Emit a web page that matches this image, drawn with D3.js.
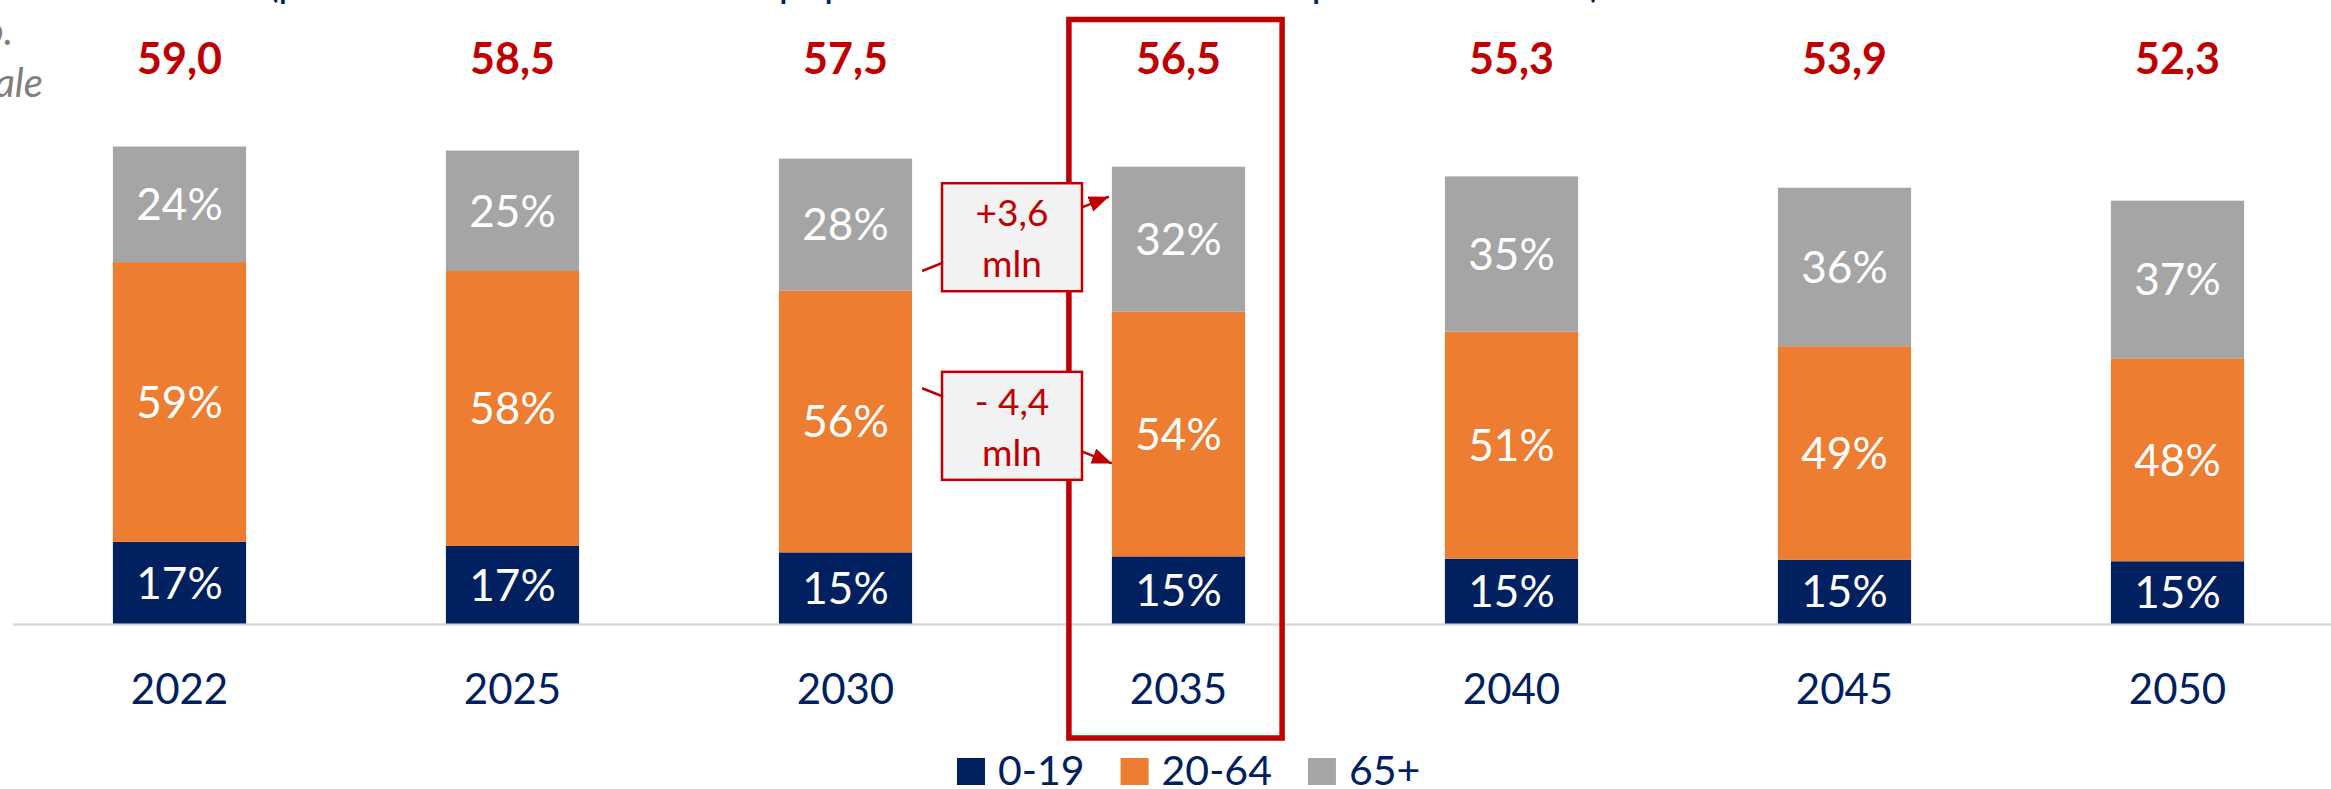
<!DOCTYPE html>
<html>
<head>
<meta charset="utf-8">
<script src="https://cdn.jsdelivr.net/npm/d3@7"></script>
<style>
  body { margin: 0; background: #fff; }
  svg { display: block; font-family: Lato, 'Open Sans', sans-serif; }
</style>
</head>
<body>
<div id="chart"></div>
<script>
//Data (millions of residents by age group)
const years = ['2022', '2025', '2030', '2035', '2040', '2045', '2050'];
const totals = [59.0, 58.5, 57.5, 56.5, 55.3, 53.9, 52.3];
const age0_19 = [10.1, 9.6, 8.8, 8.3, 8.0, 7.9, 7.7];
const age20_64 = [34.6, 34.0, 32.4, 30.3, 28.1, 26.4, 25.1];
const age65 = [14.3, 14.9, 16.3, 17.9, 19.2, 19.6, 19.5];
const pct0_19 = ['17%', '17%', '15%', '15%', '15%', '15%', '15%'];
const pct20_64 = ['59%', '58%', '56%', '54%', '51%', '49%', '48%'];
const pct65 = ['24%', '25%', '28%', '32%', '35%', '36%', '37%'];
const groups = ['0-19', '20-64', '65+'];
const deltas = ['+3,6', '- 4,4'];

const colors = {'0-19': '#002060', '20-64': '#ed7d31', '65+': '#a5a5a5'};
const red = '#c00000';
const navy = '#002060';

const width = 2331, height = 789;

let table = years.map(function(y, i) {
    return {year: y, '0-19': age0_19[i], '20-64': age20_64[i], '65+': age65[i]};
});
let labels = {'0-19': pct0_19, '20-64': pct20_64, '65+': pct65};

let svg = d3.select('#chart').append('svg')
    .attr('width', width)
    .attr('height', height);

//Scales
let xScale = d3.scaleBand()
    .domain(years)
    .range([13, 2344])
    .paddingInner(0.6)
    .paddingOuter(0.3);

let yScale = d3.scaleLinear()
    .domain([0, 59])
    .range([623.5, 146.5]);

let bw = xScale.bandwidth();
let comma = d3.formatLocale({decimal: ',', thousands: '.', grouping: [3], currency: ['', '€']}).format('.1f');

//cut-off title and subtitle fragments
svg.append('text')
    .attr('x', 268).attr('y', -3)
    .attr('font-size', 40).attr('fill', navy)
    .text('(previsioni Istat al 2050 della popolazione residente in Italia per classe di età)');

svg.append('text')
    .attr('x', 13).attr('y', 45).attr('text-anchor', 'end')
    .attr('font-size', 40).attr('font-style', 'italic').attr('fill', '#7f7f7f')
    .text('Ab. in mln, scenario mediano.');
svg.append('text')
    .attr('x', 43).attr('y', 97).attr('text-anchor', 'end')
    .attr('font-size', 40).attr('font-style', 'italic').attr('fill', '#7f7f7f')
    .text('composizione percentuale');

//baseline
svg.append('line')
    .attr('x1', 13).attr('x2', width)
    .attr('y1', yScale(0) + 1).attr('y2', yScale(0) + 1)
    .attr('stroke', '#d9d9d9').attr('stroke-width', 2.5);

//highlight around 2035
let hx = xScale('2035');
svg.append('rect')
    .attr('x', hx - 43).attr('y', 19.5)
    .attr('width', bw + 80).attr('height', 718.5)
    .attr('fill', 'none').attr('stroke', red).attr('stroke-width', 5.5);

//Stacked bars
let series = d3.stack().keys(groups)(table);

let layer = svg.selectAll('.layer')
    .data(series)
    .enter().append('g')
    .attr('class', 'layer')
    .attr('fill', function(d) { return colors[d.key]; });

layer.selectAll('rect')
    .data(function(d) { return d; })
    .enter().append('rect')
    .attr('x', function(d) { return xScale(d.data.year); })
    .attr('y', function(d) { return yScale(d[1]); })
    .attr('width', bw)
    .attr('height', function(d) { return yScale(d[0]) - yScale(d[1]); });

layer.selectAll('text')
    .data(function(s) { return s.map(function(d, i) { return {d: d, label: labels[s.key][i]}; }); })
    .enter().append('text')
    .attr('x', function(e) { return xScale(e.d.data.year) + bw / 2; })
    .attr('y', function(e) { return (yScale(e.d[0]) + yScale(e.d[1])) / 2; })
    .attr('dy', '0.36em')
    .attr('text-anchor', 'middle')
    .attr('font-size', 44)
    .attr('fill', '#fff')
    .text(function(e) { return e.label; });

//totals on top
svg.selectAll('.total')
    .data(totals)
    .enter().append('text')
    .attr('class', 'total')
    .attr('x', function(d, i) { return xScale(years[i]) + bw / 2; })
    .attr('y', 74)
    .attr('text-anchor', 'middle')
    .attr('font-size', 43).attr('font-weight', 'bold')
    .attr('fill', red)
    .text(function(d) { return comma(d); });

//x axis labels
svg.selectAll('.year')
    .data(years)
    .enter().append('text')
    .attr('class', 'year')
    .attr('x', function(d) { return xScale(d) + bw / 2; })
    .attr('y', 704)
    .attr('text-anchor', 'middle')
    .attr('font-size', 42)
    .attr('fill', navy)
    .text(function(d) { return d; });

//annotations: change 2022 -> 2035
svg.append('defs').append('marker')
    .attr('id', 'arrow')
    .attr('markerUnits', 'userSpaceOnUse')
    .attr('markerWidth', 24).attr('markerHeight', 18)
    .attr('refX', 20).attr('refY', 8)
    .attr('orient', 'auto')
    .append('path')
    .attr('d', 'M0,0 L20,8 L0,16 Z')
    .attr('fill', red);

let gapL = xScale('2030') + bw, gapR = xScale('2035');
let arrows = [
    {y0: yScale(43.6), y1: yScale(52.8), x1: gapR - 3, text: deltas[0]},
    {y0: yScale(29.1), y1: yScale(19.8), x1: gapR, text: deltas[1]}
];

arrows.forEach(function(a) {
    svg.append('line')
        .attr('x1', gapL + 10).attr('y1', a.y0)
        .attr('x2', a.x1).attr('y2', a.y1)
        .attr('stroke', red).attr('stroke-width', 2.5)
        .attr('marker-end', 'url(#arrow)');
    let cx = (gapL + gapR) / 2;
    let t = ((cx - gapL - 10) / (a.x1 - gapL - 10));
    let cy = a.y0 + (a.y1 - a.y0) * t;
    let g = svg.append('g').attr('transform', 'translate(' + cx + ',' + (cy + 2) + ')');
    g.append('rect')
        .attr('x', -70).attr('y', -54)
        .attr('width', 140).attr('height', 108)
        .attr('fill', '#f2f2f2').attr('stroke', red).attr('stroke-width', 2.5);
    g.append('text')
        .attr('y', -11).attr('text-anchor', 'middle')
        .attr('font-size', 37).attr('fill', red)
        .text(a.text);
    g.append('text')
        .attr('y', 40).attr('text-anchor', 'middle')
        .attr('font-size', 37).attr('fill', red)
        .text('mln');
});

//legend
let legend = svg.append('g').attr('transform', 'translate(957,0)');
let lx = 0;
groups.forEach(function(k) {
    legend.append('rect')
        .attr('x', lx).attr('y', 758)
        .attr('width', 28).attr('height', 27)
        .attr('fill', colors[k]);
    let t = legend.append('text')
        .attr('x', lx + 41).attr('y', 785)
        .attr('font-size', 41)
        .attr('fill', navy)
        .text(k);
    lx += 41 + t.node().getComputedTextLength() + 36;
});
</script>
</body>
</html>
